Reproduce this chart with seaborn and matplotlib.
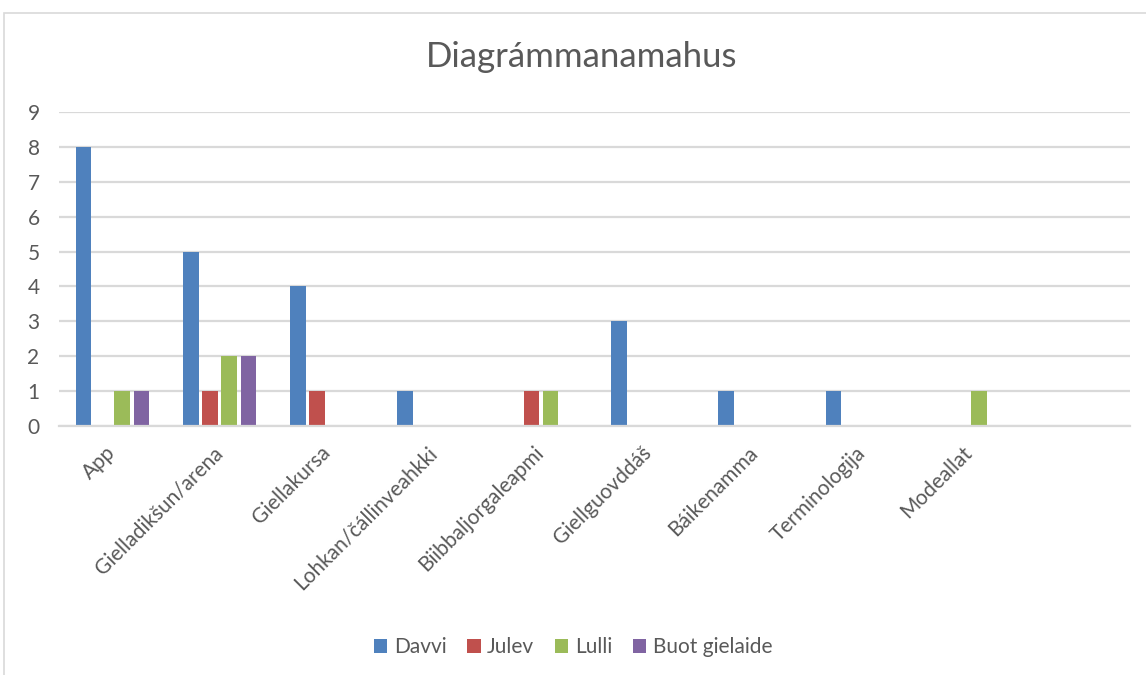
import pandas as pd
import matplotlib.pyplot as plt
import seaborn as sns
from matplotlib.patches import Rectangle, Patch

# --- Dados ---
categories = ['App', 'Gielladikšun/arena', 'Giellakursa', 'Lohkan/čállinveahkki',
              'Biibbaljorgaleapmi', 'Giellguovddáš', 'Báikenamma', 'Terminologija',
              'Modeallat', ' ']
series_names = ['Davvi', 'Julev', 'Lulli', 'Buot gielaide']
davvi = [8, 5, 4, 1, 0, 3, 1, 1, 0, 0]
julev = [0, 1, 1, 0, 1, 0, 0, 0, 0, 0]
lulli = [1, 2, 0, 0, 1, 0, 0, 0, 1, 0]
buot = [1, 2, 0, 0, 0, 0, 0, 0, 0, 0]
colors = ['#4F81BD', '#C0504D', '#9BBB59', '#8064A2']
title = 'Diagrámmanamahus'

TEXT = '#595959'
GRID = '#d9d9d9'

df = pd.DataFrame({'categoria': categories, 'Davvi': davvi, 'Julev': julev,
                   'Lulli': lulli, 'Buot gielaide': buot})
df_melt = df.melt(id_vars='categoria', value_vars=series_names,
                  var_name='serie', value_name='valor')

sns.set_style('white')
plt.rcParams['font.family'] = ['Lato', 'DejaVu Sans']

fig = plt.figure(figsize=(11.46, 6.75), dpi=100)
ax = fig.add_axes([59 / 1146, 1 - 426 / 675, (1130 - 59) / 1146, (426 - 112) / 675])

sns.barplot(data=df_melt, x='categoria', y='valor', hue='serie', order=categories,
            hue_order=series_names, palette=colors, width=0.72, gap=0.19,
            linewidth=0, saturation=1, ax=ax, legend=False, errorbar=None)

# barras com valor zero não aparecem
for p in ax.patches:
    if p.get_height() == 0:
        p.set_visible(False)

ax.set_xlim(-0.5, len(categories) - 0.5)
ax.set_ylim(0, 9)
ax.set_yticks(range(0, 10))
ax.yaxis.grid(True, color=GRID, linewidth=1.6)
ax.set_axisbelow(True)
for s in ['top', 'right', 'left']:
    ax.spines[s].set_visible(False)
ax.spines['bottom'].set_color(GRID)
ax.spines['bottom'].set_linewidth(1.6)
ax.set_xlabel('')
ax.set_ylabel('')
ax.tick_params(axis='both', length=0, labelsize=15, colors=TEXT)
ax.tick_params(axis='y', pad=14)
ax.tick_params(axis='x', pad=17)
for lbl in ax.get_xticklabels():
    lbl.set_rotation(45)
    lbl.set_ha('right')
    lbl.set_va('center')
    lbl.set_rotation_mode('anchor')

# título centrado na área do gráfico
fig.text(582 / 1146, 1 - 57 / 675, title, fontsize=25, color=TEXT,
         ha='center', va='center')

handles = [Patch(facecolor=c, edgecolor='none') for c in colors]
fig.legend(handles, series_names, loc='center', bbox_to_anchor=(573 / 1146, 1 - 647 / 675),
           ncol=4, frameon=False, fontsize=15, labelcolor=TEXT, handlelength=0.65,
           handleheight=0.65, handletextpad=0.3, columnspacing=1.0)

# borda do gráfico
fig.patches.append(Rectangle((3.5 / 1146, -0.1), 1.2, 0.1 + 1 - 12.5 / 675,
                             transform=fig.transFigure, fill=False,
                             edgecolor=GRID, linewidth=1.2))

plt.savefig('out.png', dpi=100, facecolor='white')
plt.close()
